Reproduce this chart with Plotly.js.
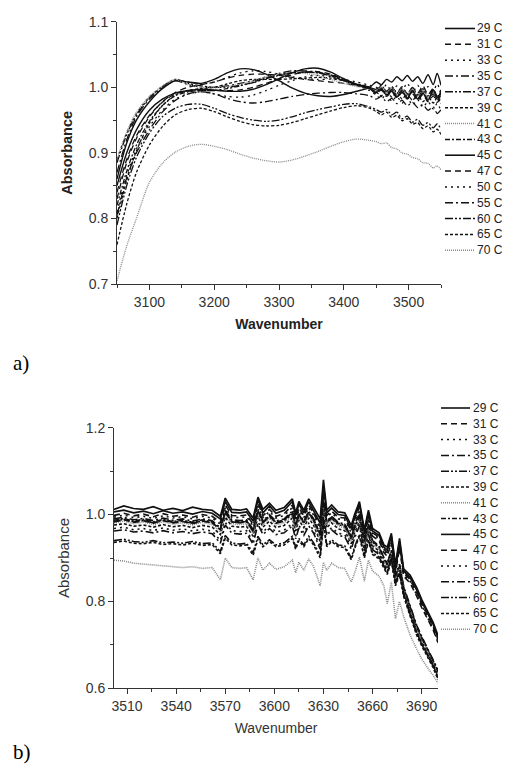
<!DOCTYPE html>
<html>
<head>
<meta charset="utf-8">
<script src="https://cdn.plot.ly/plotly-3.0.1.min.js"></script>
<style>
  html, body { margin: 0; padding: 0; background: #fff; }
  #chart { width: 507px; height: 765px; }
</style>
</head>
<body>
<div id="chart"></div>
<script>
// ---------------- DATA ----------------
const LABELS = ['29 C','31 C','33 C','35 C','37 C','39 C','41 C','43 C','45 C','47 C','50 C','55 C','60 C','65 C','70 C'];

// Panel a) wavenumber grid
const WN_A = [3050,3065,3080,3100,3120,3140,3160,3180,3200,3220,3240,3260,3280,3300,3320,3340,3360,3380,3400,3420,3440,3450,3458,3466,3474,3482,3490,3498,3506,3514,3522,3530,3538,3544,3550];

const A_29 = [0.860,0.915,0.950,0.978,0.998,1.010,1.008,1.006,1.012,1.022,1.028,1.027,1.020,1.010,0.999,0.991,0.987,0.986,0.989,0.994,1.000,1.008,1.004,1.012,1.008,1.016,1.010,1.018,1.009,1.016,1.006,1.019,1.004,1.021,1.003];
const A_31 = [0.830,0.885,0.922,0.955,0.978,0.992,1.000,1.004,1.008,1.014,1.018,1.020,1.020,1.018,1.015,1.012,1.010,1.008,1.006,1.003,1.000,0.996,1.002,0.994,1.000,0.992,1.001,0.990,0.999,0.991,1.002,0.989,0.998,0.987,0.996];
const A_33 = [0.890,0.930,0.960,0.985,1.000,1.010,1.008,1.005,1.008,1.015,1.022,1.025,1.024,1.020,1.016,1.013,1.012,1.012,1.012,1.008,1.003,1.000,0.995,1.004,0.993,1.002,0.996,1.006,0.992,1.003,0.990,1.001,0.994,1.005,0.990];
const A_35 = [0.870,0.920,0.955,0.982,0.999,1.010,1.004,1.000,1.000,1.002,1.006,1.010,1.016,1.021,1.025,1.025,1.023,1.019,1.012,1.005,1.000,0.994,0.999,0.990,0.997,0.988,0.996,0.986,0.995,0.985,0.994,0.983,0.993,0.982,0.990];
const A_37 = [0.885,0.928,0.958,0.984,1.001,1.012,1.006,1.002,1.000,1.000,1.003,1.007,1.013,1.018,1.022,1.023,1.022,1.017,1.010,1.004,0.999,0.997,1.003,0.993,1.001,0.991,0.999,0.990,1.000,0.988,0.998,0.987,0.996,0.985,0.994];
const A_39 = [0.800,0.858,0.903,0.945,0.972,0.988,0.995,0.998,1.000,1.005,1.010,1.012,1.012,1.012,1.013,1.014,1.015,1.014,1.010,1.005,1.000,0.993,0.987,0.995,0.985,0.992,0.982,0.990,0.980,0.989,0.978,0.986,0.976,0.984,0.975];
const A_41 = [0.890,0.932,0.962,0.986,1.002,1.012,1.004,1.000,0.999,1.001,1.005,1.010,1.016,1.020,1.022,1.021,1.018,1.012,1.006,1.001,0.998,0.995,1.001,0.992,0.999,0.990,0.998,0.988,0.997,0.986,0.995,0.984,0.993,0.983,0.991];
const A_43 = [0.820,0.872,0.912,0.948,0.972,0.987,0.993,0.995,0.995,0.998,1.002,1.008,1.014,1.019,1.022,1.023,1.022,1.018,1.010,1.003,0.998,0.992,0.998,0.989,0.996,0.986,0.994,0.984,0.993,0.983,0.991,0.981,0.990,0.980,0.988];
const A_45 = [0.850,0.900,0.935,0.965,0.982,0.991,0.995,0.997,0.996,0.994,0.994,0.997,1.004,1.013,1.022,1.028,1.029,1.023,1.013,1.004,0.998,0.992,0.997,0.988,0.994,0.985,0.993,0.983,0.995,0.982,0.991,0.980,0.996,0.984,0.993];
const A_47 = [0.840,0.890,0.926,0.957,0.977,0.990,0.994,0.995,0.995,0.995,0.996,1.000,1.006,1.013,1.019,1.023,1.024,1.020,1.012,1.004,0.998,0.990,0.996,0.986,0.993,0.984,0.992,0.982,0.990,0.980,0.989,0.978,0.987,0.977,0.985];
const A_50 = [0.810,0.866,0.906,0.940,0.965,0.982,0.990,0.993,0.990,0.986,0.985,0.988,0.995,1.003,1.010,1.016,1.018,1.016,1.010,1.003,0.995,0.988,0.982,0.990,0.979,0.986,0.976,0.984,0.973,0.981,0.970,0.978,0.967,0.975,0.964];
const A_55 = [0.805,0.862,0.900,0.935,0.962,0.980,0.990,0.993,0.990,0.983,0.978,0.976,0.978,0.982,0.986,0.989,0.991,0.992,0.992,0.990,0.987,0.982,0.986,0.978,0.983,0.975,0.980,0.972,0.977,0.969,0.973,0.965,0.970,0.960,0.966];
const A_60 = [0.790,0.850,0.893,0.930,0.955,0.968,0.974,0.974,0.968,0.960,0.954,0.950,0.948,0.950,0.955,0.961,0.966,0.970,0.974,0.975,0.970,0.966,0.962,0.966,0.958,0.962,0.952,0.956,0.947,0.951,0.942,0.946,0.938,0.944,0.936];
const A_65 = [0.760,0.822,0.870,0.912,0.940,0.958,0.966,0.968,0.963,0.955,0.948,0.943,0.941,0.942,0.946,0.952,0.958,0.964,0.969,0.972,0.968,0.963,0.958,0.962,0.954,0.957,0.949,0.952,0.944,0.946,0.937,0.941,0.932,0.936,0.928];
const A_70 = [0.705,0.758,0.800,0.855,0.884,0.901,0.910,0.913,0.910,0.905,0.898,0.892,0.888,0.886,0.889,0.895,0.902,0.910,0.917,0.921,0.919,0.917,0.914,0.915,0.908,0.906,0.900,0.898,0.893,0.891,0.885,0.884,0.877,0.880,0.874];

// Panel b) wavenumber grid
const WN_B = [3502,3508,3514,3520,3526,3532,3538,3544,3550,3556,3562,3567,3570,3574,3579,3583,3587,3590,3593,3597,3601,3606,3611,3613,3615,3618,3621,3624,3628,3630,3632,3635,3639,3643,3647,3649,3652,3655,3657.5,3660,3664,3667,3669,3671.5,3674,3676.5,3679,3683,3687,3690,3694,3697,3700];

const B_29 = [1.012,1.020,1.014,1.012,1.018,1.010,1.014,1.009,1.017,1.012,1.010,0.996,1.038,1.012,1.010,1.013,0.992,1.040,1.012,1.026,1.010,1.016,1.036,1.004,1.030,1.010,1.036,1.016,0.990,1.080,1.010,1.022,1.006,1.004,0.975,1.000,1.030,0.965,1.010,0.968,0.958,0.930,0.925,0.957,0.885,0.945,0.875,0.860,0.832,0.805,0.775,0.752,0.722];
const B_31 = [0.998,1.003,0.997,1.001,0.995,1.002,0.996,0.999,0.994,1.000,0.996,0.982,1.022,0.998,0.997,0.999,0.978,1.026,0.997,1.012,0.996,1.002,1.022,0.990,1.016,0.997,1.022,1.003,0.972,1.052,0.998,1.008,0.994,0.992,0.962,0.988,1.018,0.955,0.998,0.958,0.948,0.920,0.912,0.945,0.872,0.932,0.866,0.850,0.820,0.794,0.765,0.742,0.712];
const B_33 = [0.994,0.999,0.993,0.996,0.991,0.997,0.992,0.995,0.990,0.996,0.992,0.978,1.016,0.994,0.993,0.995,0.974,1.020,0.993,1.007,0.992,0.998,1.016,0.986,1.010,0.993,1.016,0.999,0.966,1.045,0.994,1.004,0.990,0.988,0.958,0.984,1.012,0.951,0.994,0.955,0.945,0.916,0.908,0.940,0.868,0.928,0.862,0.846,0.815,0.790,0.760,0.738,0.708];
const B_35 = [0.990,0.994,0.988,0.991,0.986,0.992,0.987,0.990,0.985,0.990,0.986,0.970,1.010,0.988,0.986,0.988,0.966,1.012,0.986,1.000,0.985,0.990,1.008,0.978,1.002,0.985,1.008,0.990,0.955,1.030,0.985,0.996,0.982,0.978,0.948,0.972,1.000,0.940,0.978,0.940,0.928,0.900,0.888,0.918,0.860,0.886,0.835,0.790,0.745,0.720,0.690,0.668,0.642];
const B_37 = [0.984,0.989,0.983,0.986,0.981,0.987,0.982,0.985,0.980,0.985,0.981,0.965,1.004,0.983,0.981,0.983,0.961,1.006,0.981,0.995,0.980,0.985,1.002,0.973,0.997,0.980,1.002,0.985,0.950,1.024,0.980,0.991,0.977,0.973,0.943,0.967,0.995,0.935,0.973,0.936,0.924,0.896,0.884,0.914,0.856,0.882,0.830,0.785,0.740,0.715,0.686,0.664,0.638];
const B_39 = [0.976,0.979,0.973,0.976,0.971,0.977,0.972,0.975,0.970,0.975,0.971,0.954,0.994,0.973,0.971,0.973,0.950,0.996,0.971,0.985,0.970,0.975,0.992,0.962,0.987,0.970,0.992,0.975,0.938,1.012,0.970,0.981,0.967,0.963,0.933,0.958,0.986,0.926,0.965,0.928,0.916,0.888,0.875,0.906,0.846,0.874,0.822,0.776,0.732,0.707,0.678,0.657,0.631];
const B_41 = [0.981,0.985,0.979,0.983,0.977,0.983,0.978,0.981,0.976,0.982,0.977,0.960,1.000,0.979,0.977,0.979,0.956,1.002,0.977,0.991,0.976,0.981,0.998,0.968,0.993,0.976,0.998,0.981,0.944,1.018,0.976,0.987,0.973,0.969,0.938,0.963,0.991,0.930,0.969,0.932,0.920,0.892,0.878,0.910,0.850,0.878,0.826,0.780,0.736,0.710,0.682,0.660,0.634];
const B_43 = [0.987,0.991,0.985,0.989,0.983,0.989,0.984,0.987,0.982,0.988,0.983,0.968,1.007,0.985,0.983,0.986,0.963,1.009,0.983,0.998,0.982,0.988,1.005,0.975,1.000,0.982,1.005,0.987,0.952,1.027,0.982,0.993,0.979,0.975,0.946,0.970,0.998,0.938,0.976,0.938,0.926,0.898,0.886,0.916,0.858,0.884,0.832,0.788,0.742,0.718,0.688,0.666,0.640];
const B_45 = [1.006,1.010,1.004,1.008,1.002,1.009,1.003,1.006,1.001,1.007,1.003,0.990,1.030,1.005,1.004,1.006,0.985,1.034,1.004,1.020,1.003,1.010,1.030,0.998,1.024,1.004,1.030,1.010,0.980,1.066,1.004,1.015,1.000,0.998,0.968,0.994,1.024,0.960,1.004,0.962,0.952,0.925,0.918,0.950,0.878,0.938,0.870,0.855,0.826,0.800,0.770,0.748,0.716];
const B_47 = [0.983,0.988,0.982,0.986,0.980,0.986,0.981,0.984,0.979,0.985,0.981,0.966,1.006,0.983,0.982,0.984,0.963,1.010,0.982,0.997,0.981,0.987,1.006,0.975,1.000,0.982,1.006,0.988,0.956,1.035,0.983,0.994,0.980,0.978,0.950,0.976,1.004,0.945,0.988,0.950,0.940,0.912,0.904,0.936,0.864,0.924,0.858,0.842,0.812,0.786,0.757,0.735,0.705];
const B_50 = [0.968,0.971,0.965,0.968,0.963,0.969,0.964,0.967,0.962,0.966,0.962,0.940,0.982,0.963,0.961,0.963,0.938,0.984,0.960,0.974,0.960,0.964,0.980,0.950,0.975,0.958,0.980,0.963,0.925,1.000,0.958,0.970,0.957,0.954,0.925,0.950,0.978,0.920,0.958,0.922,0.911,0.884,0.872,0.902,0.844,0.870,0.820,0.774,0.730,0.705,0.676,0.655,0.628];
const B_55 = [0.962,0.965,0.960,0.962,0.958,0.963,0.958,0.961,0.956,0.960,0.956,0.934,0.976,0.957,0.955,0.957,0.932,0.978,0.954,0.968,0.954,0.958,0.974,0.944,0.969,0.952,0.974,0.957,0.920,0.995,0.952,0.965,0.952,0.949,0.920,0.946,0.974,0.916,0.954,0.919,0.908,0.881,0.870,0.900,0.842,0.868,0.818,0.772,0.728,0.703,0.674,0.653,0.626];
const B_60 = [0.940,0.943,0.938,0.936,0.940,0.935,0.937,0.934,0.938,0.933,0.935,0.915,0.952,0.934,0.932,0.934,0.912,0.950,0.930,0.942,0.930,0.935,0.950,0.925,0.945,0.930,0.950,0.935,0.905,0.985,0.930,0.942,0.930,0.928,0.900,0.925,0.955,0.905,0.942,0.912,0.902,0.878,0.866,0.898,0.840,0.866,0.815,0.770,0.726,0.702,0.672,0.652,0.624];
const B_65 = [0.936,0.939,0.934,0.933,0.936,0.931,0.933,0.930,0.934,0.929,0.931,0.910,0.946,0.930,0.928,0.930,0.906,0.944,0.926,0.938,0.926,0.930,0.945,0.920,0.940,0.926,0.945,0.930,0.900,0.975,0.926,0.938,0.926,0.924,0.896,0.921,0.950,0.900,0.938,0.908,0.898,0.874,0.862,0.894,0.836,0.862,0.812,0.766,0.722,0.698,0.668,0.648,0.620];
const B_70 = [0.895,0.893,0.888,0.886,0.884,0.882,0.880,0.878,0.880,0.876,0.878,0.850,0.900,0.878,0.876,0.878,0.850,0.900,0.872,0.888,0.874,0.880,0.895,0.866,0.890,0.872,0.898,0.880,0.836,0.890,0.872,0.888,0.878,0.876,0.845,0.865,0.902,0.847,0.895,0.870,0.858,0.835,0.795,0.845,0.760,0.800,0.765,0.722,0.690,0.668,0.645,0.630,0.612];

const SERIES_A = [A_29,A_31,A_33,A_35,A_37,A_39,A_41,A_43,A_45,A_47,A_50,A_55,A_60,A_65,A_70];
const SERIES_B = [B_29,B_31,B_33,B_35,B_37,B_39,B_41,B_43,B_45,B_47,B_50,B_55,B_60,B_65,B_70];

// ---------------- STYLES ----------------
const DASHES = ['solid','6px,4px','2px,4px','8px,3px,2px,3px','8px,2px,2px,2px,2px,2px','3px,2px','1px,1px','5px,2px,2px,2px',
                'solid','6px,4px','2px,4px','8px,3px,2px,3px','8px,2px,2px,2px,2px,2px','3px,2px','1px,1px'];
const COLORS = LABELS.map((l,i)=> (i===6||i===14) ? '#8a8a8a' : '#111111');
const WIDTHS = LABELS.map((l,i)=> (i===0||i===8) ? 1.4 : 1.3);

const W = 507, H = 765;
const px = x => x / W;
const py = y => 1 - y / H;

const traces = [];
LABELS.forEach((name, i) => {
  traces.push({
    x: WN_A, y: SERIES_A[i], name: name, type: 'scatter', mode: 'lines',
    xaxis: 'x', yaxis: 'y', showlegend: false,
    line: {color: COLORS[i], width: WIDTHS[i], dash: DASHES[i], shape: 'spline', smoothing: 0.8}
  });
});
LABELS.forEach((name, i) => {
  traces.push({
    x: WN_B, y: SERIES_B[i], name: name, type: 'scatter', mode: 'lines',
    xaxis: 'x2', yaxis: 'y2', showlegend: false,
    line: {color: COLORS[i], width: WIDTHS[i] + 0.3, dash: DASHES[i]}
  });
});

// ---------------- LEGENDS (drawn as key boxes) ----------------
const shapes = [];
const annotations = [];
function addKey(x0, x1, xt, yTop, step) {
  LABELS.forEach((lab, i) => {
    const yy = yTop + i * step;
    shapes.push({type: 'line', xref: 'paper', yref: 'paper',
      x0: px(x0), x1: px(x1), y0: py(yy), y1: py(yy),
      line: {color: COLORS[i], width: WIDTHS[i] + 0.2, dash: DASHES[i]}});
    annotations.push({xref: 'paper', yref: 'paper', x: px(xt), y: py(yy),
      xanchor: 'right', yanchor: 'middle', showarrow: false, text: lab,
      font: {family: 'Liberation Sans, Arial, sans-serif', size: 12, color: '#222'}});
  });
}
addKey(445, 475, 505, 28.5, 15.84);
addKey(441, 470, 501, 408, 15.8);

annotations.push({xref: 'paper', yref: 'paper', x: px(11), y: py(363), xanchor: 'left', yanchor: 'middle',
  showarrow: false, text: 'a)', font: {family: 'Liberation Serif, Times New Roman, serif', size: 21, color: '#000'}});
annotations.push({xref: 'paper', yref: 'paper', x: px(11), y: py(752), xanchor: 'left', yanchor: 'middle',
  showarrow: false, text: 'b)', font: {family: 'Liberation Serif, Times New Roman, serif', size: 21, color: '#000'}});

const tickFont = {family: 'Liberation Sans, Arial, sans-serif', size: 14, color: '#333'};
const axisCommon = {
  showline: true, linecolor: '#333', linewidth: 1, mirror: false,
  ticks: 'outside', ticklen: 5, tickwidth: 1, tickcolor: '#333',
  showgrid: false, zeroline: false, tickfont: tickFont, automargin: false, fixedrange: true
};

const layout = {
  width: W, height: H,
  margin: {l: 0, r: 0, t: 0, b: 0},
  paper_bgcolor: '#ffffff', plot_bgcolor: '#ffffff',
  showlegend: false,
  font: {family: 'Liberation Sans, Arial, sans-serif', color: '#333'},
  xaxis: Object.assign({}, axisCommon, {
    domain: [px(117), px(441)], anchor: 'y', range: [3050, 3550],
    tick0: 3100, dtick: 100,
    minor: {ticks: 'outside', ticklen: 3, tickcolor: '#333', tick0: 3050, dtick: 50, showgrid: false},
    title: {text: '<b>Wavenumber</b>', standoff: 10, font: {family: 'Liberation Sans, Arial, sans-serif', size: 14, color: '#222'}}
  }),
  yaxis: Object.assign({}, axisCommon, {
    domain: [py(284), py(21.7)], anchor: 'x', range: [0.7, 1.1],
    tick0: 0.7, dtick: 0.1, tickformat: '.1f',
    minor: {ticks: 'outside', ticklen: 3, tickcolor: '#333', tick0: 0.7, dtick: 0.05, showgrid: false},
    title: {text: '<b>Absorbance</b>', standoff: 12, font: {family: 'Liberation Sans, Arial, sans-serif', size: 14.5, color: '#222'}}
  }),
  xaxis2: Object.assign({}, axisCommon, {
    domain: [px(114), px(438)], anchor: 'y2', range: [3502, 3700],
    tick0: 3510, dtick: 30,
    minor: {ticks: 'outside', ticklen: 3, tickcolor: '#333', tick0: 3510, dtick: 15, showgrid: false},
    title: {text: 'Wavenumber', standoff: 10, font: {family: 'Liberation Sans, Arial, sans-serif', size: 14, color: '#333'}}
  }),
  yaxis2: Object.assign({}, axisCommon, {
    domain: [py(688.3), py(427.7)], anchor: 'x2', range: [0.6, 1.2],
    tick0: 0.6, dtick: 0.2, tickformat: '.1f',
    minor: {ticks: 'outside', ticklen: 3, tickcolor: '#333', tick0: 0.6, dtick: 0.1, showgrid: false},
    title: {text: 'Absorbance', standoff: 12, font: {family: 'Liberation Sans, Arial, sans-serif', size: 15, color: '#333'}}
  }),
  shapes: shapes,
  annotations: annotations
};

Plotly.newPlot('chart', traces, layout, {displayModeBar: false, staticPlot: true});
</script>
</body>
</html>
